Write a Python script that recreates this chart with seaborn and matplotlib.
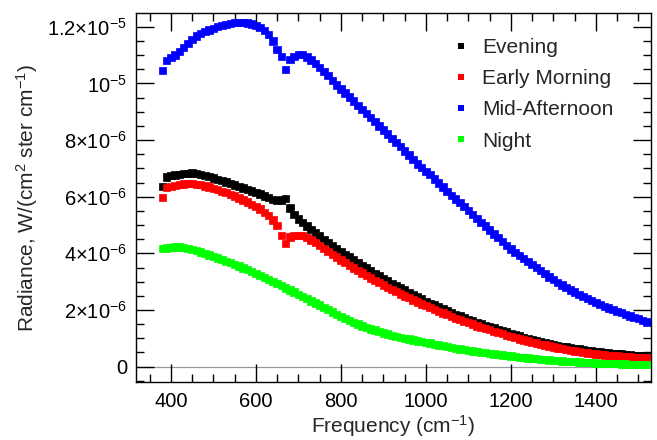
import numpy as np
import pandas as pd
import matplotlib
matplotlib.use("Agg")
import matplotlib.pyplot as plt
from matplotlib.ticker import MultipleLocator, FixedLocator, FixedFormatter
from matplotlib.lines import Line2D
import seaborn as sns

# Spectral grid (cm^-1)
frequency = [
    380, 390, 400, 410, 420, 430, 440, 450, 460, 470,
    480, 490, 500, 510, 520, 530, 540, 550, 560, 570,
    580, 590, 600, 610, 620, 630, 640, 650, 660, 670,
    680, 690, 700, 710, 720, 730, 740, 750, 760, 770,
    780, 790, 800, 810, 820, 830, 840, 850, 860, 870,
    880, 890, 900, 910, 920, 930, 940, 950, 960, 970,
    980, 990, 1000, 1010, 1020, 1030, 1040, 1050, 1060, 1070,
    1080, 1090, 1100, 1110, 1120, 1130, 1140, 1150, 1160, 1170,
    1180, 1190, 1200, 1210, 1220, 1230, 1240, 1250, 1260, 1270,
    1280, 1290, 1300, 1310, 1320, 1330, 1340, 1350, 1360, 1370,
    1380, 1390, 1400, 1410, 1420, 1430, 1440, 1450, 1460, 1470,
    1480, 1490, 1500, 1510, 1520,
]

# Radiance in units of 1e-6 W/(cm^2 ster cm^-1)
evening = [
    6.35, 6.70, 6.75, 6.77, 6.79, 6.81, 6.83, 6.84, 6.82, 6.79,
    6.75, 6.71, 6.66, 6.61, 6.57, 6.52, 6.47, 6.41, 6.36, 6.31,
    6.25, 6.20, 6.15, 6.10, 6.03, 5.97, 5.91, 5.86, 5.88, 5.93,
    5.60, 5.38, 5.21, 5.08, 4.96, 4.84, 4.72, 4.61, 4.49, 4.38,
    4.27, 4.17, 4.07, 3.97, 3.87, 3.77, 3.67, 3.57, 3.48, 3.39,
    3.29, 3.20, 3.11, 3.03, 2.94, 2.86, 2.78, 2.70, 2.62, 2.54,
    2.46, 2.39, 2.31, 2.24, 2.17, 2.10, 2.04, 1.97, 1.91, 1.85,
    1.79, 1.73, 1.67, 1.62, 1.56, 1.51, 1.46, 1.41, 1.36, 1.31,
    1.27, 1.22, 1.17, 1.13, 1.08, 1.04, 1.00, 0.96, 0.92, 0.88,
    0.85, 0.82, 0.78, 0.75, 0.72, 0.70, 0.67, 0.64, 0.62, 0.60,
    0.58, 0.56, 0.54, 0.52, 0.50, 0.49, 0.47, 0.45, 0.44, 0.43,
    0.41, 0.40, 0.39, 0.37, 0.36,
]
early_morning = [
    5.97, 6.33, 6.37, 6.40, 6.43, 6.45, 6.46, 6.46, 6.44, 6.42,
    6.38, 6.34, 6.30, 6.25, 6.19, 6.14, 6.08, 6.02, 5.95, 5.88,
    5.81, 5.73, 5.65, 5.56, 5.45, 5.34, 5.18, 4.98, 4.62, 4.35,
    4.58, 4.63, 4.64, 4.62, 4.56, 4.47, 4.38, 4.27, 4.17, 4.07,
    3.97, 3.87, 3.77, 3.67, 3.57, 3.48, 3.39, 3.31, 3.22, 3.13,
    3.05, 2.96, 2.88, 2.80, 2.72, 2.65, 2.57, 2.50, 2.43, 2.35,
    2.28, 2.21, 2.15, 2.08, 2.01, 1.95, 1.89, 1.83, 1.77, 1.71,
    1.66, 1.60, 1.55, 1.50, 1.44, 1.39, 1.34, 1.30, 1.25, 1.20,
    1.16, 1.11, 1.06, 1.02, 0.98, 0.94, 0.90, 0.86, 0.83, 0.79,
    0.76, 0.73, 0.69, 0.66, 0.63, 0.61, 0.58, 0.55, 0.53, 0.50,
    0.48, 0.46, 0.44, 0.43, 0.41, 0.40, 0.39, 0.37, 0.36, 0.35,
    0.34, 0.33, 0.32, 0.31, 0.30,
]
mid_afternoon = [
    10.45, 10.82, 10.92, 11.00, 11.13, 11.27, 11.40, 11.54, 11.67, 11.76,
    11.83, 11.89, 11.94, 12.00, 12.04, 12.09, 12.12, 12.15, 12.16, 12.15,
    12.13, 12.10, 12.05, 11.98, 11.88, 11.72, 11.50, 11.20, 10.95, 10.50,
    10.85, 10.95, 11.02, 11.02, 10.93, 10.83, 10.70, 10.57, 10.42, 10.27,
    10.11, 9.95, 9.80, 9.66, 9.52, 9.38, 9.23, 9.09, 8.94, 8.79,
    8.65, 8.50, 8.35, 8.21, 8.06, 7.91, 7.77, 7.62, 7.47, 7.31,
    7.16, 7.02, 6.90, 6.78, 6.63, 6.49, 6.34, 6.19, 6.05, 5.92,
    5.79, 5.66, 5.52, 5.38, 5.24, 5.10, 4.96, 4.82, 4.68, 4.55,
    4.41, 4.28, 4.15, 4.03, 3.92, 3.81, 3.71, 3.60, 3.49, 3.39,
    3.28, 3.17, 3.07, 2.97, 2.88, 2.80, 2.71, 2.63, 2.55, 2.48,
    2.41, 2.33, 2.26, 2.19, 2.13, 2.07, 2.01, 1.95, 1.90, 1.85,
    1.79, 1.74, 1.69, 1.63, 1.58,
]
night = [
    4.18, 4.19, 4.20, 4.22, 4.23, 4.21, 4.18, 4.14, 4.10, 4.05,
    4.00, 3.94, 3.88, 3.83, 3.78, 3.72, 3.67, 3.61, 3.55, 3.48,
    3.42, 3.35, 3.28, 3.21, 3.14, 3.07, 3.00, 2.93, 2.86, 2.78,
    2.70, 2.63, 2.55, 2.47, 2.40, 2.32, 2.25, 2.17, 2.09, 2.01,
    1.93, 1.85, 1.77, 1.70, 1.63, 1.56, 1.50, 1.44, 1.38, 1.33,
    1.29, 1.24, 1.19, 1.15, 1.11, 1.07, 1.03, 1.00, 0.97, 0.94,
    0.91, 0.88, 0.85, 0.83, 0.79, 0.76, 0.74, 0.71, 0.68, 0.65,
    0.62, 0.60, 0.58, 0.55, 0.53, 0.51, 0.49, 0.47, 0.45, 0.43,
    0.41, 0.39, 0.37, 0.35, 0.33, 0.32, 0.30, 0.29, 0.28, 0.26,
    0.25, 0.24, 0.22, 0.21, 0.20, 0.19, 0.18, 0.17, 0.16, 0.15,
    0.15, 0.14, 0.13, 0.12, 0.12, 0.11, 0.10, 0.10, 0.09, 0.09,
    0.08, 0.08, 0.07, 0.07, 0.07,
]

series_names = ["Evening", "Early Morning", "Mid-Afternoon", "Night"]
series_colors = ["#000000", "#ff0000", "#0000ff", "#00ff00"]

y_tick_values = [0, 2e-6, 4e-6, 6e-6, 8e-6, 1e-5, 1.2e-5]
y_tick_labels = ["0", r"$2{\times}10^{-6}$", r"$4{\times}10^{-6}$", r"$6{\times}10^{-6}$",
                 r"$8{\times}10^{-6}$", r"$10^{-5}$", r"$1.2{\times}10^{-5}$"]

# Long-form table for seaborn
frames = []
for name, vals in zip(series_names, [evening, early_morning, mid_afternoon, night]):
    frames.append(pd.DataFrame({
        "Frequency": frequency,
        "Radiance": np.asarray(vals) * 1e-6,
        "Period": name,
    }))
df = pd.concat(frames, ignore_index=True)

sns.set_style("ticks")
plt.rcParams["font.family"] = ["Liberation Sans", "DejaVu Sans"]
plt.rcParams["mathtext.fontset"] = "custom"
plt.rcParams["mathtext.rm"] = "Liberation Sans"
plt.rcParams["mathtext.it"] = "Liberation Sans:italic"
plt.rcParams["mathtext.default"] = "regular"

fig = plt.figure(figsize=(6.57, 4.40), dpi=100)
ax = fig.add_axes([0.207, 0.132, 0.784, 0.838])

ax.axhline(0, color="0.6", lw=0.9, zorder=0)

palette = dict(zip(series_names, series_colors))
sns.scatterplot(data=df, x="Frequency", y="Radiance", hue="Period",
                hue_order=series_names, palette=palette, marker="s",
                s=28, linewidth=0.5, edgecolor="face", legend=False, ax=ax, zorder=3)

ax.set_xlim(318, 1530)
ax.set_ylim(-0.54e-6, 1.248e-5)

ax.xaxis.set_major_locator(MultipleLocator(200))
ax.xaxis.set_minor_locator(MultipleLocator(50))
ax.yaxis.set_major_locator(FixedLocator(y_tick_values))
ax.yaxis.set_major_formatter(FixedFormatter(y_tick_labels))
ax.yaxis.set_minor_locator(MultipleLocator(0.5e-6))

ax.tick_params(which="both", direction="in", top=True, right=True,
               width=1.0, colors="black", labelsize=14.5)
ax.tick_params(which="major", length=13)
ax.tick_params(which="minor", length=5.5)
ax.tick_params(axis="y", pad=6.5)
ax.tick_params(axis="x", pad=7)
for sp in ax.spines.values():
    sp.set_linewidth(1.0)
    sp.set_color("black")

ax.set_xlabel(r"Frequency (cm$^{-1}$)", fontsize=15, labelpad=2)
ax.set_ylabel(r"Radiance, W/(cm$^{2}$ ster cm$^{-1}$)", fontsize=15, labelpad=5)

handles = [Line2D([], [], ls="none", marker="s", markersize=4.2,
                  markerfacecolor=c, markeredgewidth=0) for c in series_colors]
ax.legend(handles, series_names, loc="upper left", bbox_to_anchor=(0.615, 0.932),
          frameon=False, fontsize=15, handlelength=0.8, handletextpad=0.6,
          labelspacing=0.58, borderpad=0, borderaxespad=0)

fig.savefig("out.png", dpi=100)
